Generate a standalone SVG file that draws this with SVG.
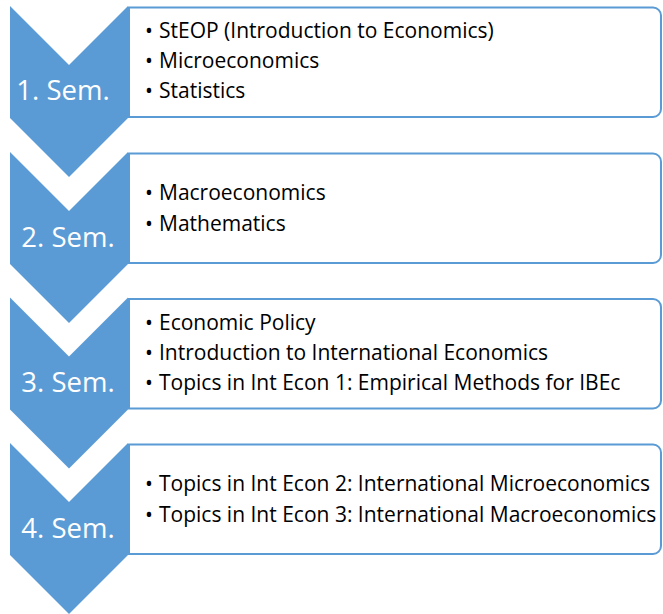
<svg xmlns="http://www.w3.org/2000/svg" width="663" height="614" viewBox="0 0 663 614">
<defs>
<style>
.chev{fill:#5B9BD5;stroke:none}
.box{fill:#FFFFFF;stroke:#5B9BD5;stroke-width:2}
.lbl{font-family:"Open Sans","Noto Sans",sans-serif;font-size:27.5px;fill:#FFFFFF;text-anchor:middle}
.item{font-family:"Open Sans","Noto Sans",sans-serif;font-size:21px;fill:#000000}
</style>
</defs>
<rect width="663" height="614" fill="#FFFFFF"/>
<g id="step1">
<path class="chev" d="M10,6 L69,65 L128,6 L128,118 L69,177 L10,118 Z"/>
<path class="box" d="M129,7.5 H653 A8,8 0 0 1 661,15.5 V109 A8,8 0 0 1 653,117 H129 Z"/>
<text class="lbl" x="63" y="100">1. Sem.</text>
<text class="item" y="38"><tspan x="145">•</tspan><tspan x="159">StEOP (Introduction to Economics)</tspan></text>
<text class="item" y="68"><tspan x="145">•</tspan><tspan x="159">Microeconomics</tspan></text>
<text class="item" y="98"><tspan x="145">•</tspan><tspan x="159">Statistics</tspan></text>
</g>
<g id="step2">
<path class="chev" d="M10,152 L69,211 L128,152 L128,264 L69,323 L10,264 Z"/>
<path class="box" d="M129,153.5 H653 A8,8 0 0 1 661,161.5 V255 A8,8 0 0 1 653,263 H129 Z"/>
<text class="lbl" x="68" y="247">2. Sem.</text>
<text class="item" y="200"><tspan x="145">•</tspan><tspan x="159">Macroeconomics</tspan></text>
<text class="item" y="231"><tspan x="145">•</tspan><tspan x="159">Mathematics</tspan></text>
</g>
<g id="step3">
<path class="chev" d="M10,297.5 L69,356.5 L128,297.5 L128,409.5 L69,468.5 L10,409.5 Z"/>
<path class="box" d="M129,299 H653 A8,8 0 0 1 661,307 V400.5 A8,8 0 0 1 653,408.5 H129 Z"/>
<text class="lbl" x="68" y="392">3. Sem.</text>
<text class="item" y="329.5"><tspan x="145">•</tspan><tspan x="159">Economic Policy</tspan></text>
<text class="item" y="359.5"><tspan x="145">•</tspan><tspan x="159">Introduction to International Economics</tspan></text>
<text class="item" y="389.5"><tspan x="145">•</tspan><tspan x="159">Topics in Int Econ 1: Empirical Methods for IBEc</tspan></text>
</g>
<g id="step4">
<path class="chev" d="M10,443 L69,502 L128,443 L128,555 L69,614 L10,555 Z"/>
<path class="box" d="M129,444.5 H653 A8,8 0 0 1 661,452.5 V546 A8,8 0 0 1 653,554 H129 Z"/>
<text class="lbl" x="68" y="538">4. Sem.</text>
<text class="item" y="491"><tspan x="145">•</tspan><tspan x="159">Topics in Int Econ 2: International Microeconomics</tspan></text>
<text class="item" y="522"><tspan x="145">•</tspan><tspan x="159">Topics in Int Econ 3: International Macroeconomics</tspan></text>
</g>
<g id="connectors"></g>
</svg>
